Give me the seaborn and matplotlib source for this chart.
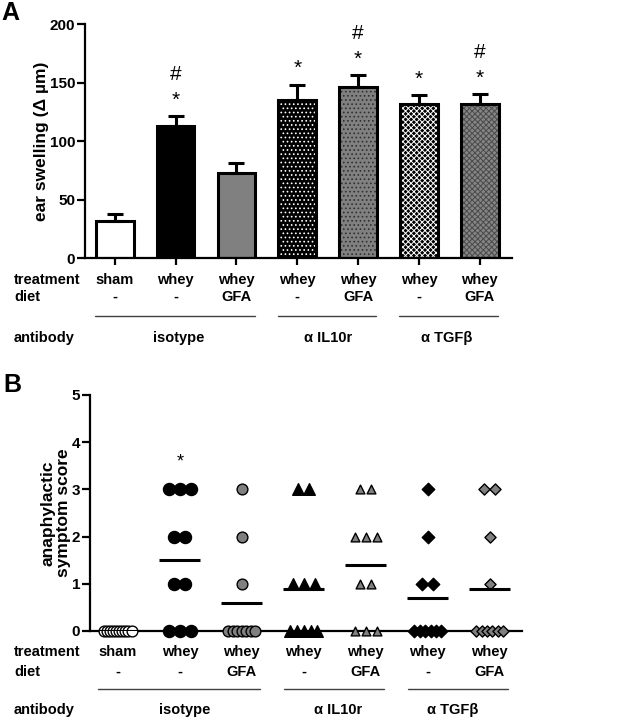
import numpy as np
import pandas as pd
import matplotlib
matplotlib.use("Agg")
import matplotlib.pyplot as plt
from matplotlib import transforms
import seaborn as sns

# ---------------- data ----------------
treatment = ["sham", "whey", "whey", "whey", "whey", "whey", "whey"]
diet = ["-", "-", "GFA", "-", "GFA", "-", "GFA"]
antibody = ["isotype", "α IL10r", "α TGFβ"]
antibody_span = [(0, 2), (3, 4), (5, 6)]

# Panel A: ear swelling (mean, SEM)
swelling_mean = [32, 113, 73, 135, 146, 132, 132]
swelling_sem = [6, 8, 8, 13, 10, 7, 8]
sig_star_A = [False, True, False, True, True, True, True]
sig_hash_A = [False, True, False, False, True, False, True]

# Panel B: anaphylactic symptom scores per animal
scores_sham = [0, 0, 0, 0, 0, 0, 0, 0, 0, 0]
scores_whey = [3, 3, 3, 2, 2, 1, 1, 0, 0, 0]
scores_whey_gfa = [3, 2, 1, 0, 0, 0, 0, 0, 0, 0]
scores_il10_whey = [3, 3, 1, 1, 1, 0, 0, 0, 0, 0]
scores_il10_gfa = [3, 3, 2, 2, 2, 1, 1, 0, 0, 0]
scores_tgf_whey = [3, 2, 1, 1, 0, 0, 0, 0, 0, 0]
scores_tgf_gfa = [3, 3, 2, 1, 0, 0, 0, 0, 0, 0]
sig_star_B = [False, True, False, False, False, False, False]

# ---------------- style ----------------
sns.set_theme(style="ticks")
plt.rcParams["font.family"] = ["Liberation Sans", "DejaVu Sans"]
plt.rcParams["font.weight"] = "bold"
plt.rcParams["axes.labelweight"] = "bold"
plt.rcParams["hatch.linewidth"] = 0.7
for k in ["text.color", "axes.labelcolor", "xtick.color", "ytick.color", "axes.edgecolor"]:
    plt.rcParams[k] = "black"

GRAY = "#808080"
bar_face = ["white", "black", GRAY, "black", GRAY, "black", "#858585"]
bar_hatch = [None, None, None, "....", "....", "xxxxxx", "xxxxxx"]
hatch_col = [None, None, None, "white", "#303030", "white", "#4a4a4a"]

W, H = 629, 720
fig = plt.figure(figsize=(W / 100, H / 100), dpi=100)


def px_axes(left, right, top, bottom):
    return fig.add_axes([left / W, 1 - bottom / H, (right - left) / W, (bottom - top) / H])


def below(ax, dy):
    return transforms.offset_copy(ax.get_xaxis_transform(), fig=fig, x=0, y=-dy, units="dots")


col_ids = [f"{t}|{d}|{i}" for i, (t, d) in enumerate(zip(treatment, diet))]

# ---------------- Panel A ----------------
axA = px_axes(85, 512, 24, 258)
sns.barplot(x=col_ids, y=swelling_mean, hue=col_ids, palette=bar_face, legend=False,
            width=0.62, saturation=1, linewidth=0, errorbar=None, ax=axA)
patches = sorted(axA.patches, key=lambda p: p.get_x())
for p, h, hc in zip(patches, bar_hatch, hatch_col):
    if h:
        p.set_hatch(h)
        p.set_edgecolor(hc)
        p.set_linewidth(0)
xpos = np.arange(len(col_ids))
axA.bar(xpos, swelling_mean, width=0.62, fill=False, edgecolor="black", linewidth=2.2, zorder=3)
axA.errorbar(xpos, swelling_mean, yerr=[np.zeros(len(xpos)), swelling_sem], fmt="none",
             ecolor="black", elinewidth=2.2, capsize=5.5, capthick=2.2, zorder=2)
for x, m, s, st, hs in zip(xpos, swelling_mean, swelling_sem, sig_star_A, sig_hash_A):
    top = m + s
    if st:
        axA.text(x, top + 9, "*", ha="center", va="baseline", fontsize=15, fontweight="normal")
    if hs:
        axA.text(x, top + 31, "#", ha="center", va="baseline", fontsize=15, fontweight="normal")

axA.set_xlim(-0.49, 6.53)
axA.set_ylim(0, 200)
axA.set_yticks([0, 50, 100, 150, 200])
axA.set_xticks(xpos)
axA.set_xticklabels([])
axA.set_xlabel("")
axA.set_ylabel("ear swelling (Δ µm)", fontsize=12.5)
axA.yaxis.set_label_coords(-0.084, 0.5)
sns.despine(ax=axA)
for sp in ["left", "bottom"]:
    axA.spines[sp].set_linewidth(1.6)
axA.tick_params(axis="both", width=1.6, length=5.5, labelsize=11, pad=1.5)
axA.tick_params(axis="x", length=5)

# ---------------- Panel B ----------------
axB = px_axes(90, 522, 395, 631)
all_scores = [scores_sham, scores_whey, scores_whey_gfa, scores_il10_whey,
              scores_il10_gfa, scores_tgf_whey, scores_tgf_gfa]
markers = ["o", "o", "o", "^", "^", "D", "D"]
faces = ["white", "black", GRAY, "black", GRAY, "black", GRAY]
msizes = [60, 75, 60, 70, 40, 40, 32]


def row_offsets(n, step=0.18, max_span=0.44):
    if n <= 1:
        return [0.0]
    s = min(step, max_span / (n - 1))
    return [(i - (n - 1) / 2) * s for i in range(n)]


rows = []
for g, sc in enumerate(all_scores):
    sc = np.array(sc)
    for lvl in sorted(set(sc.tolist())):
        n = int((sc == lvl).sum())
        for off in row_offsets(n):
            rows.append({"group": g, "x": g + off, "score": lvl})
dfB = pd.DataFrame(rows)

for g in range(len(all_scores)):
    sub = dfB[dfB["group"] == g]
    sns.scatterplot(data=sub, x="x", y="score", marker=markers[g], color=faces[g],
                    edgecolor="black", linewidth=1.0, s=msizes[g], clip_on=False,
                    zorder=3, legend=False, ax=axB)
    m = float(np.mean(all_scores[g]))
    axB.hlines(m, g - 0.33, g + 0.33, color="black", linewidth=2.2, zorder=4)
    if sig_star_B[g]:
        axB.text(g, max(all_scores[g]) + 0.48, "*", ha="center", va="baseline",
                 fontsize=13, fontweight="normal")

axB.set_xlim(-0.45, 6.52)
axB.set_ylim(0, 5)
axB.set_yticks([0, 1, 2, 3, 4, 5])
axB.set_xticks(xpos)
axB.set_xticklabels([])
axB.set_xlabel("")
axB.set_ylabel("anaphylactic\nsymptom score", fontsize=12.5, linespacing=1.0)
axB.yaxis.set_label_coords(-0.044, 0.5)
sns.despine(ax=axB)
for sp in ["left", "bottom"]:
    axB.spines[sp].set_linewidth(1.6)
axB.tick_params(axis="y", width=1.6, length=5.5, labelsize=11, pad=1.5)
axB.tick_params(axis="x", width=1.0, length=3)

# ---------------- category labels ----------------
def category_block(ax, dys, group_centers):
    d_treat, d_diet, d_line, d_ab = dys
    for i, (t, d) in enumerate(zip(treatment, diet)):
        ax.text(i, 0, t, transform=below(ax, d_treat), ha="center", va="center", fontsize=10.5)
        ax.text(i, 0, d, transform=below(ax, d_diet), ha="center", va="center", fontsize=10.5)
    for (a, b), name, cx in zip(antibody_span, antibody, group_centers):
        ax.plot([a - 0.32, b + 0.30], [0, 0], transform=below(ax, d_line), color="#404040",
                linewidth=1.0, clip_on=False)
        ax.text(cx, 0, name, transform=below(ax, d_ab), ha="center", va="center", fontsize=10.5)


category_block(axA, (22, 39, 58, 80), [1.05, 3.5, 5.45])
category_block(axB, (21, 41, 58, 79), [1.08, 3.55, 5.4])

for ypx, txt in [(280, "treatment"), (297, "diet"), (338, "antibody"),
                 (652, "treatment"), (672, "diet"), (710, "antibody")]:
    fig.text(14 / W, 1 - ypx / H, txt, ha="left", va="center", fontsize=10.5)

fig.text(1 / W, 1 - 13 / H, "A", ha="left", va="center", fontsize=18)
fig.text(3 / W, 1 - 385 / H, "B", ha="left", va="center", fontsize=18)

fig.savefig("out.png", dpi=100)
